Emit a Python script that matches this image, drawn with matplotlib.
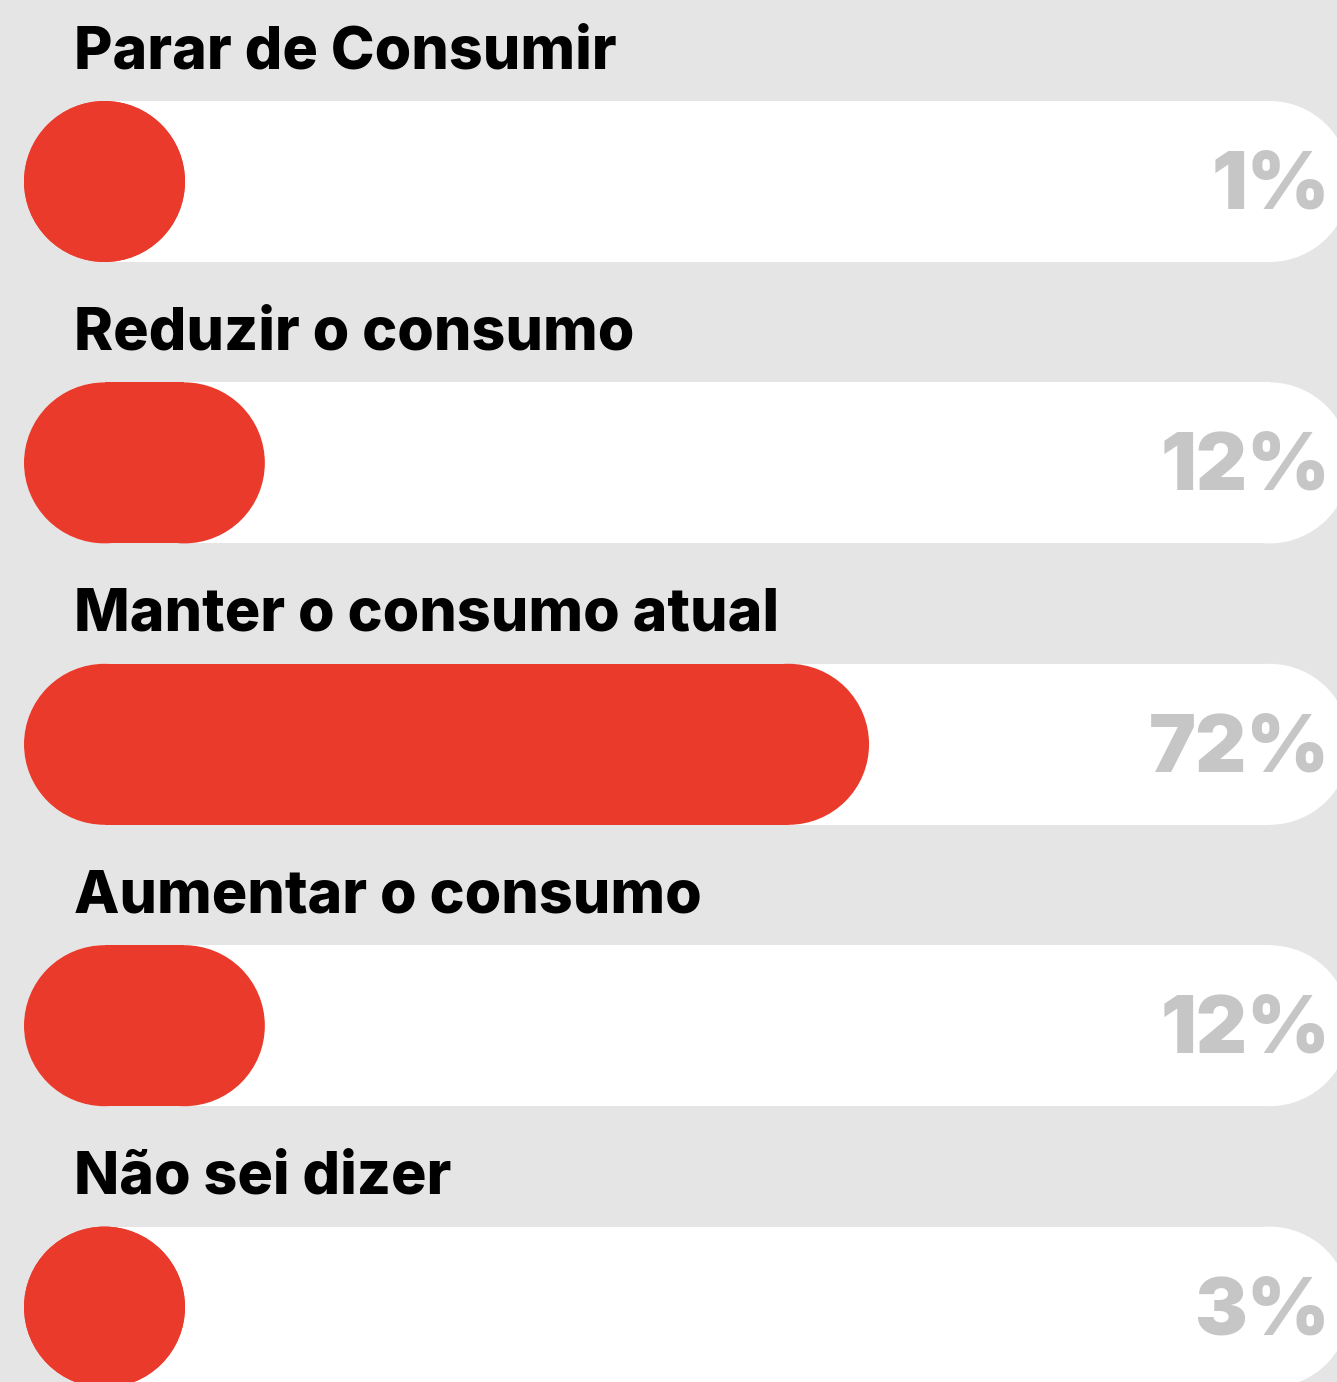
import matplotlib
matplotlib.use("Agg")
import matplotlib.pyplot as plt
from matplotlib.patches import Circle, Rectangle

# data
categories = ["Parar de Consumir", "Reduzir o consumo", "Manter o consumo atual",
              "Aumentar o consumo", "Não sei dizer"]
values = [1, 12, 72, 12, 3]
value_labels = ["1%", "12%", "72%", "12%", "3%"]

BG = "#e5e5e5"
RED = "#e93a2b"
GREY_TXT = "#c6c6c6"

W, H = 1337, 1382
fig = plt.figure(figsize=(W / 100, H / 100), dpi=100, facecolor=BG)
ax = fig.add_axes([0, 0, 1, 1])
ax.set_xlim(0, W)
ax.set_ylim(H, 0)
ax.set_aspect("equal")
ax.axis("off")
ax.set_facecolor(BG)

bar_h = 161
r = bar_h / 2
x0 = 24
track_end = 1350
first_center = 181.5
step = 281.4
# bar length scale (px): base + per-percent, min is a full circle
base, per_pct = 120, 10.07


def pill(x, cy, length, color):
    # capsule: two half circles joined by a rectangle
    ax.add_patch(Circle((x + r, cy), r, fc=color, ec="none"))
    ax.add_patch(Circle((x + length - r, cy), r, fc=color, ec="none"))
    if length > bar_h:
        ax.add_patch(Rectangle((x + r, cy - r), length - bar_h, bar_h,
                               fc=color, ec="none"))


for i, (cat, v, lab) in enumerate(zip(categories, values, value_labels)):
    cy = first_center + i * step
    top = cy - r
    pill(x0, cy, track_end - x0, "white")
    pill(x0, cy, max(bar_h, base + per_pct * v), RED)
    ax.text(74, top - 33, cat, fontsize=42.5, fontweight="heavy", family="Inter",
            color="black", ha="left", va="baseline")
    ax.text(1330, cy + 27, lab, fontsize=57, fontweight="black", family="Inter",
            color=GREY_TXT, ha="right", va="baseline")

fig.savefig("out.png", dpi=100, facecolor=BG)
